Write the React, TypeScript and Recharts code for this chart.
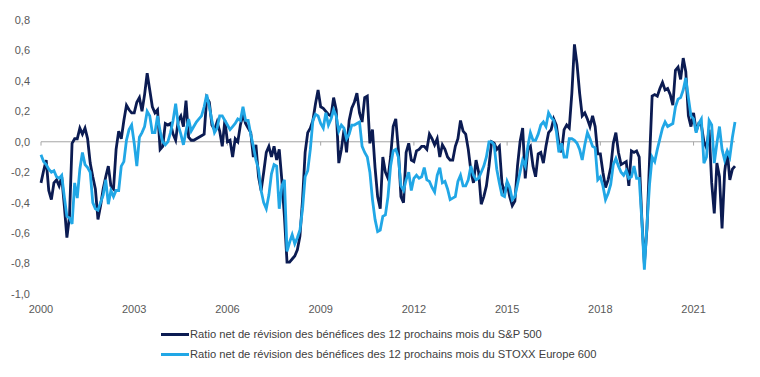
import { LineChart, Line, XAxis, YAxis, ReferenceLine } from "recharts";

const START_YEAR = 2000;
const YEAR_TICKS = [2000, 2003, 2006, 2009, 2012, 2015, 2018, 2021];
const Y_TICKS = [-1, -0.8, -0.6, -0.4, -0.2, 0, 0.2, 0.4, 0.6, 0.8];

const SP_NAME = "Ratio net de révision des bénéfices des 12 prochains mois du S&P 500";
const STOXX_NAME = "Ratio net de révision des bénéfices des 12 prochains mois du STOXX Europe 600";

// monthly values, Jan 2000 onward
const sp500 = [
  -0.27, -0.19, -0.12, -0.32, -0.38, -0.27, -0.25, -0.29, -0.23, -0.42,
  -0.63, -0.49, -0.01, 0.02, 0.02, 0.09, 0.05, 0.09, 0.02, -0.14,
  -0.23, -0.31, -0.51, -0.42, -0.31, -0.23, -0.16, -0.29, -0.31, -0.05,
  0.07, 0.02, 0.14, 0.24, 0.21, 0.19, 0.19, 0.26, 0.29, 0.2,
  0.31, 0.45, 0.34, 0.23, 0.19,
  0.21, -0.05, -0.03, 0.12, 0.11, 0.12, 0.05, 0.01, 0.14, 0.17,
  0.1, 0.27, 0.03, 0.01, 0.01, 0.02, 0.03, 0.04, 0.05, 0.29,
  0.26, 0.11, 0.08, 0.13, 0.07, -0.03, 0.14, 0.0, 0.01, -0.1,
  0.02, 0.0, 0.11, 0.18, 0.12, 0.09, 0.06, -0.1, -0.02, -0.23,
  -0.32, -0.2, -0.07, -0.03, -0.1, -0.03,
  -0.12, -0.05, -0.25, -0.49, -0.79, -0.79, -0.77, -0.75, -0.71, -0.62,
  -0.38, -0.07, 0.06, 0.09, 0.14, 0.25, 0.34, 0.23, 0.22, 0.2,
  0.18, 0.17, 0.29, 0.21, -0.14, -0.05, 0.08, -0.07, 0.14, 0.22,
  0.26, 0.32, 0.19, 0.13, 0.29, 0.3, -0.01, 0.08, -0.17, -0.36,
  -0.44, -0.1, -0.2, -0.24, -0.1, 0.1, 0.15,
  -0.05, -0.36, -0.4, -0.07, -0.01, -0.12, -0.13, -0.06, -0.05, -0.03,
  -0.03, -0.05, 0.05, 0.02, -0.02, 0.02, -0.1, -0.02, -0.05, -0.1,
  -0.12, -0.12, -0.03, 0.02, 0.14, 0.07, 0.05, -0.05, -0.19, -0.27,
  -0.12, -0.2, -0.41, -0.36, -0.29, -0.16, 0.0, -0.01, -0.05, -0.03,
  -0.27, -0.34, -0.27, -0.36, -0.42, -0.39,
  -0.16, 0.0, 0.09, -0.24, -0.05, -0.03, -0.16, -0.23, -0.08, -0.07,
  -0.14, -0.03, 0.06, 0.08, 0.15, 0.11, -0.01, -0.07, 0.08, 0.11,
  0.09, 0.32, 0.64, 0.51, 0.32, 0.17, 0.19, 0.15, 0.1, 0.17,
  0.1, -0.08, -0.08, -0.2, -0.3, -0.25, -0.17, -0.01, 0.06, -0.07,
  -0.15, -0.14, -0.13, -0.29,
  -0.06, -0.07, -0.06, -0.1, -0.5, -0.8, -0.57, -0.12, 0.3, 0.31,
  0.3, 0.35, 0.39, 0.34, 0.35, 0.31, 0.24, 0.47, 0.49, 0.41,
  0.55, 0.46, 0.17, 0.1, 0.19, 0.07, 0.12, 0.11, 0.0, -0.04,
  0.08, -0.27, -0.47, -0.14, -0.23, -0.57, -0.2, -0.06, -0.25, -0.18, -0.16,
];

const stoxx600 = [
  -0.085, -0.13, -0.15, -0.18, -0.2, -0.19, -0.23, -0.24, -0.22, -0.36,
  -0.49, -0.5, -0.54, -0.27, -0.37, -0.18, -0.07, -0.15, -0.17, -0.2,
  -0.4, -0.44, -0.45, -0.4, -0.35, -0.25, -0.41, -0.32, -0.36, -0.32,
  -0.32, -0.16, -0.13, 0.01, 0.08, 0.11, -0.01, -0.16, 0.03, 0.06,
  0.1, 0.2, 0.17, 0.06, 0.06,
  0.17, 0.07, 0.0, -0.02, 0.0, 0.06, 0.14, 0.25, 0.11, 0.05,
  -0.02, 0.07, 0.15, 0.07, 0.1, 0.13, 0.15, 0.17, 0.23, 0.31,
  0.23, 0.14, 0.06, 0.09, 0.17, 0.17, 0.14, 0.11, 0.08, 0.1,
  0.12, 0.15, 0.14, 0.23, 0.14, 0.14, 0.05, -0.03, -0.12, -0.18,
  -0.32, -0.4, -0.44, -0.35, -0.21, -0.15,
  -0.16, -0.44, -0.29, -0.25, -0.72, -0.66, -0.61, -0.67, -0.63, -0.58,
  -0.44, -0.23, -0.19, -0.05, 0.14, 0.18, 0.17, 0.12, 0.09, 0.19,
  0.11, 0.15, 0.21, 0.17, 0.07, 0.11, 0.09, 0.02, 0.05, 0.11,
  0.11, 0.12, 0.13, -0.03, -0.07, -0.1, -0.2, -0.38, -0.51, -0.59,
  -0.58, -0.49, -0.48, -0.36, -0.16, -0.06, -0.05,
  -0.1, -0.29, -0.32, -0.25, -0.2, -0.32, -0.24, -0.22, -0.24, -0.23,
  -0.17, -0.25, -0.26, -0.3, -0.33, -0.22, -0.17, -0.27, -0.26, -0.31,
  -0.38, -0.37, -0.36, -0.26, -0.22, -0.29, -0.29, -0.25, -0.16, -0.22,
  -0.25, -0.24, -0.2, -0.16, -0.1, 0.0, 0.0, -0.02, -0.18, -0.27,
  -0.35, -0.36, -0.26, -0.3, -0.38, -0.36,
  -0.28, -0.2, -0.12, -0.16, -0.03, 0.06, 0.01, 0.01, 0.05, 0.11,
  0.13, 0.1, 0.19, 0.16, 0.14, 0.07, -0.07, -0.01, -0.1, -0.1,
  0.02, 0.02, 0.01, -0.01, -0.05, -0.12, -0.02, 0.06, 0.02, -0.03,
  -0.04, -0.25, -0.23, -0.29, -0.38, -0.34, -0.28, -0.15, -0.11, -0.16,
  -0.2, -0.22, -0.19, -0.24,
  -0.23, -0.16, -0.24, -0.24, -0.51, -0.84, -0.55, -0.28, -0.1, -0.13,
  -0.05, 0.02, 0.09, 0.13, 0.1, 0.11, 0.12, 0.23, 0.28, 0.29,
  0.34, 0.42, 0.29, 0.17, 0.15, 0.06, 0.12, 0.15, -0.14, -0.1,
  0.14, 0.11, -0.14, -0.01, 0.1, -0.05, -0.12, -0.06, -0.1, 0.03, 0.13,
];

const DARK = "#0b1b52";
const LIGHT = "#21a7e6";
const FONT = "'Liberation Sans', Arial, sans-serif";

const data = sp500.map((v, i) => ({ m: i, sp: v, stoxx: stoxx600[i] }));
const xTicks = YEAR_TICKS.map((y) => (y - START_YEAR) * 12);
const lastM = sp500.length - 1;

const fmtY = (v: number) => v.toFixed(1).replace(".", ",");

function LegendBox() {
  const rows = [
    { name: SP_NAME, color: DARK },
    { name: STOXX_NAME, color: LIGHT },
  ];
  return (
    <div style={{ position: "absolute", left: 161, top: 324, fontFamily: FONT, fontSize: 11.2, color: "#404040" }}>
      {rows.map((r) => (
        <div key={r.name} style={{ display: "flex", alignItems: "center", height: 20, whiteSpace: "nowrap" }}>
          <span style={{ display: "inline-block", width: 28, height: 3, background: r.color, marginRight: 1 }} />
          <span>{r.name}</span>
        </div>
      ))}
    </div>
  );
}

export default function App() {
  return (
    <div style={{ position: "absolute", left: 0, top: 0, width: 760, height: 377, background: "#fff" }}>
      <LineChart width={760} height={377} data={data} margin={{ top: 20, right: 25, bottom: 53, left: 0 }}>
        <XAxis
          dataKey="m"
          type="number"
          domain={[0, lastM]}
          ticks={xTicks}
          tickFormatter={(m) => String(START_YEAR + m / 12)}
          axisLine={false}
          tickLine={false}
          height={30}
          tickMargin={5}
          tick={{ fill: "#595959", fontSize: 11, fontFamily: FONT }}
        />
        <YAxis
          type="number"
          domain={[-1, 0.8]}
          ticks={Y_TICKS}
          tickFormatter={fmtY}
          axisLine={false}
          tickLine={false}
          width={41}
          tickMargin={5}
          tick={{ fill: "#595959", fontSize: 11, fontFamily: FONT }}
        />
        <ReferenceLine y={0} stroke="#a6a6a6" strokeWidth={1} />
        {xTicks.map((t) => (
          <ReferenceLine key={t} segment={[{ x: t, y: 0 }, { x: t, y: -0.025 }]} stroke="#a6a6a6" strokeWidth={1} />
        ))}
        <Line type="linear" dataKey="sp" name={SP_NAME} stroke={DARK} strokeWidth={2.8} dot={false} isAnimationActive={false} />
        <Line type="linear" dataKey="stoxx" name={STOXX_NAME} stroke={LIGHT} strokeWidth={2.8} dot={false} isAnimationActive={false} />
      </LineChart>
      <LegendBox />
    </div>
  );
}
